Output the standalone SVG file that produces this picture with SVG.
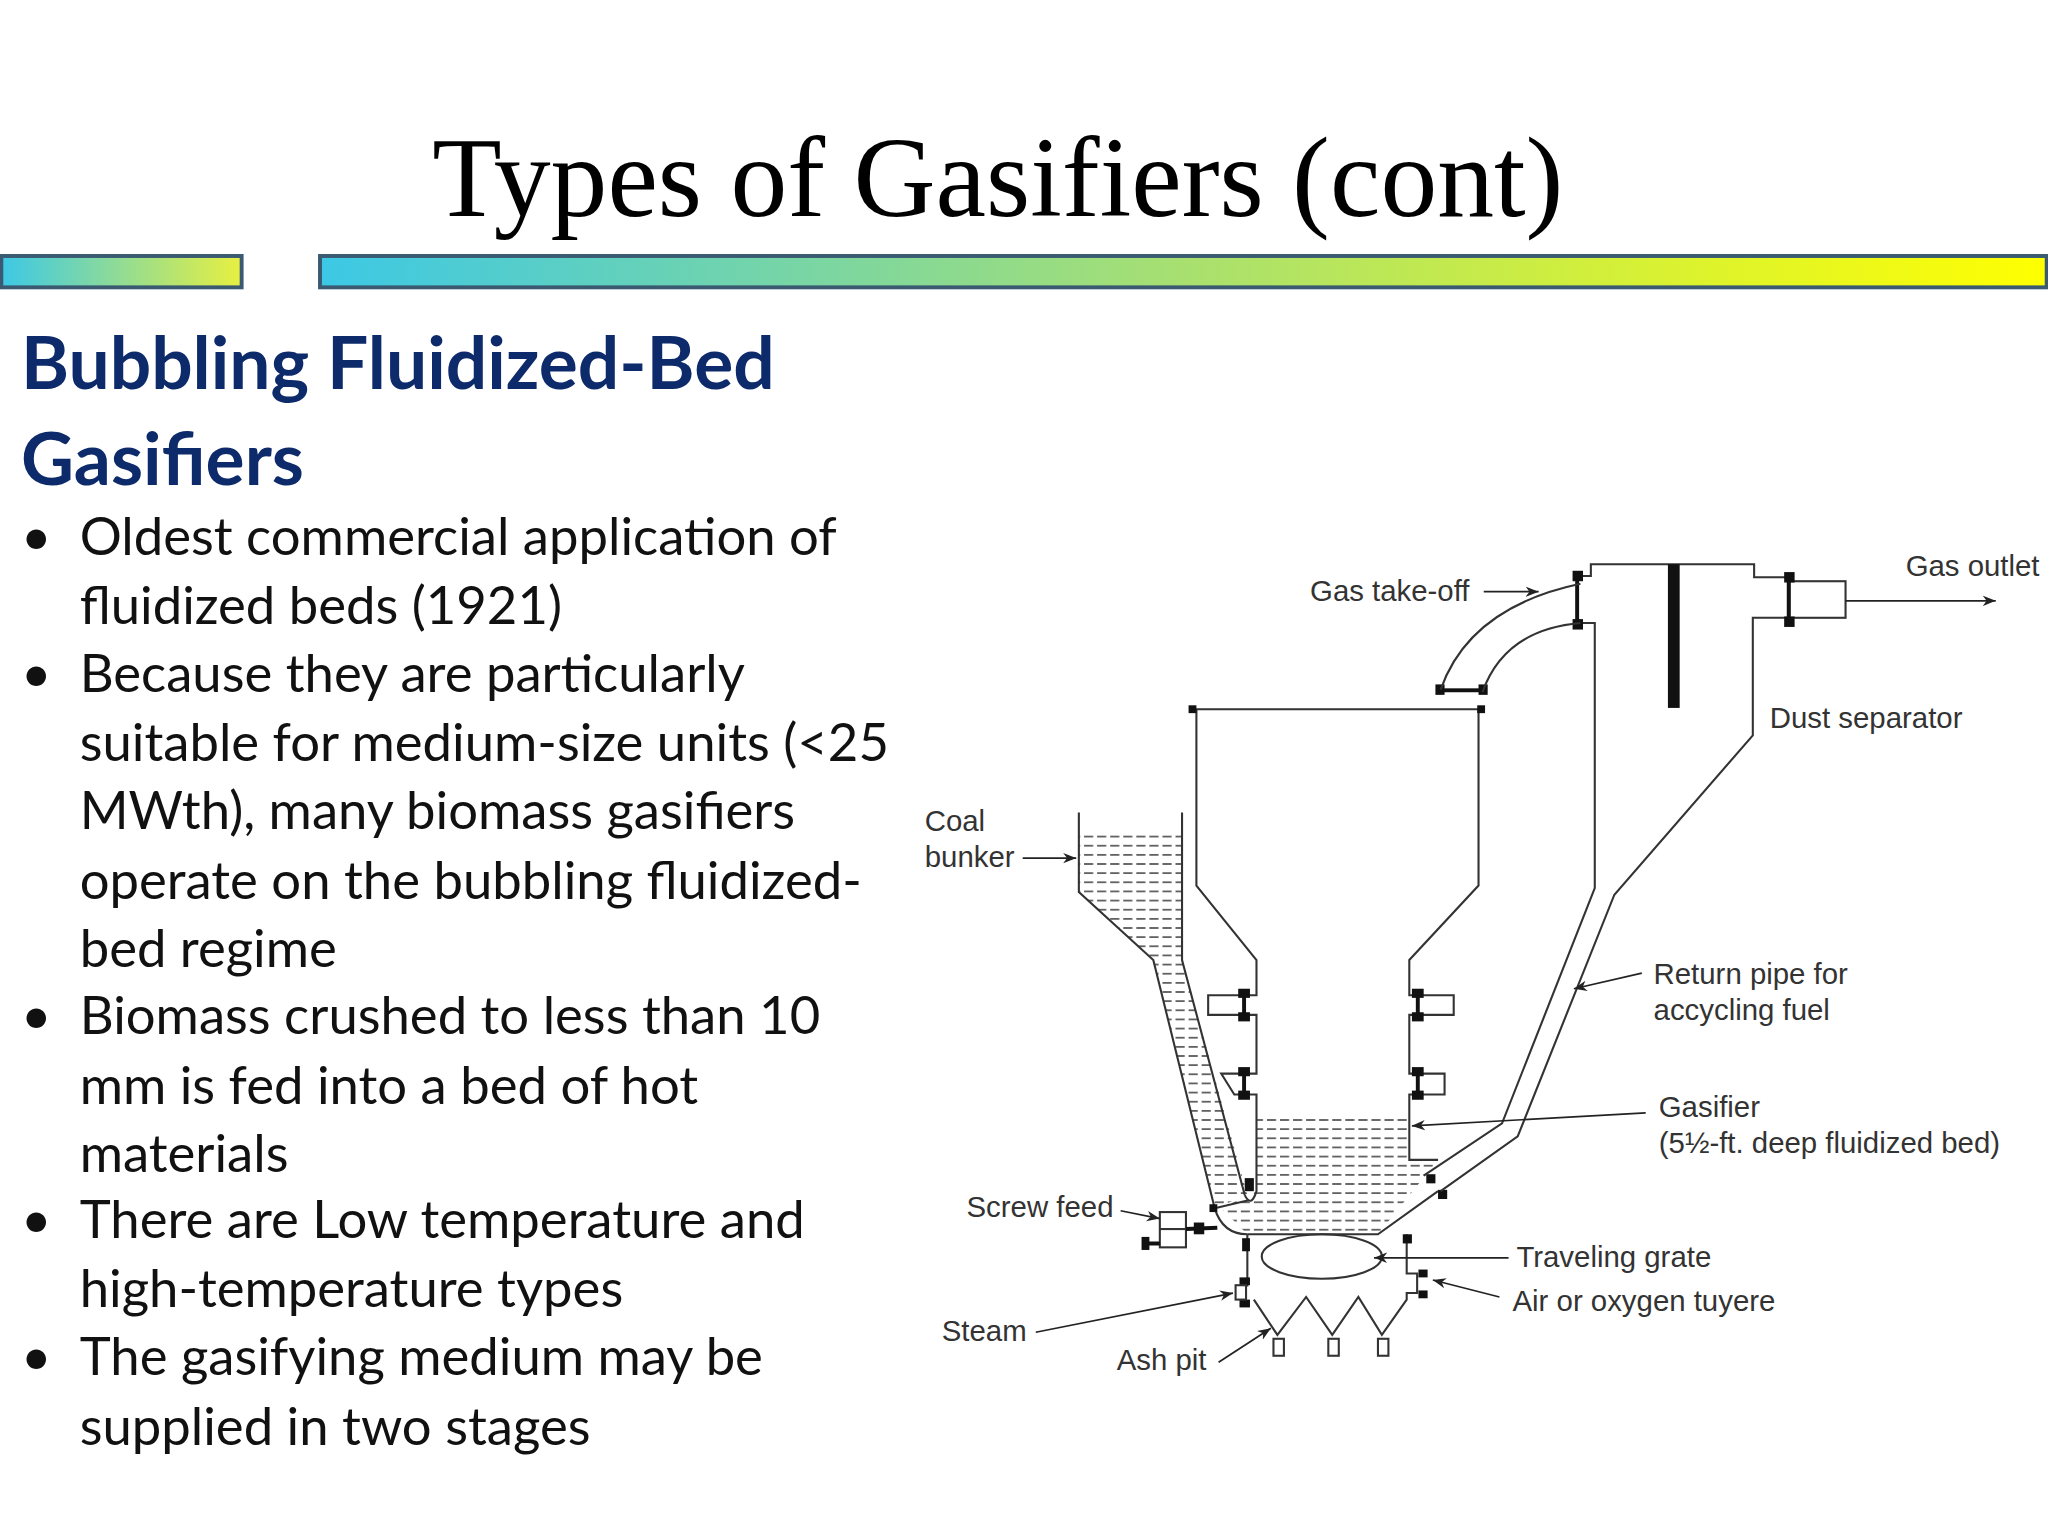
<svg xmlns="http://www.w3.org/2000/svg" width="2048" height="1536" viewBox="0 0 2048 1536">
<defs>
<linearGradient id="bar" x1="0" x2="1" y1="0" y2="0"><stop offset="0" stop-color="#3cc8e6"/><stop offset="0.5" stop-color="#a8e070"/><stop offset="1" stop-color="#ffff00"/></linearGradient>
<linearGradient id="bar2" x1="0" x2="1" y1="0" y2="0"><stop offset="0" stop-color="#3cc8e6"/><stop offset="1" stop-color="#e8f040"/></linearGradient>
<pattern id="hatch" width="10" height="7" patternUnits="userSpaceOnUse"><line x1="0" y1="3.5" x2="7" y2="3.5" stroke="#222" stroke-width="1"/></pattern>
<marker id="ar" viewBox="0 0 10 10" refX="10" refY="5" markerWidth="10" markerHeight="10" markerUnits="userSpaceOnUse" orient="auto"><path d="M0,1 L10,5 L0,9 L3,5 z" fill="#222"/></marker>
<style>
.ln{fill:none;stroke:#333;stroke-width:1.6}
.lb{font-family:"Liberation Sans",Arial,sans-serif;font-size:22.5px;fill:#333}
.ld{fill:none;stroke:#222;stroke-width:1.3;marker-end:url(#ar)}
.bt{fill:#111}
.bul{font-family:Lato,"Open Sans",sans-serif;font-size:40.3px;fill:#111}
</style>
</defs>
<rect width="2048" height="1536" fill="#fff"/>
<g transform="scale(1.30612)">
<g id="title">
<text x="764" y="165" text-anchor="middle" font-family="Liberation Serif,serif" font-size="87" fill="#000">Types of Gasifiers (cont)</text>
<rect x="1" y="196" width="184" height="24" fill="url(#bar2)" stroke="#3a5a72" stroke-width="3"/>
<rect x="245" y="196" width="1322" height="24" fill="url(#bar)" stroke="#3a5a72" stroke-width="3"/>
</g>
<g id="text">
<text x="16" y="298" font-family="Lato,'Open Sans',sans-serif" font-weight="bold" font-size="56" fill="#0d2a6b">Bubbling Fluidized-Bed</text>
<text x="16" y="371" font-family="Lato,'Open Sans',sans-serif" font-weight="bold" font-size="56" fill="#0d2a6b">Gasifiers</text>
<g class="bul">
<text x="16" y="425">•</text><text x="61" y="425">Oldest commercial application of</text>
<text x="61" y="478">fluidized beds (1921)</text>
<text x="16" y="530">•</text><text x="61" y="530">Because they are particularly</text>
<text x="61" y="583">suitable for medium-size units (&lt;25</text>
<text x="61" y="635">MWth), many biomass gasifiers</text>
<text x="61" y="688">operate on the bubbling fluidized-</text>
<text x="61" y="740">bed regime</text>
<text x="16" y="792">•</text><text x="61" y="792">Biomass crushed to less than 10</text>
<text x="61" y="845">mm is fed into a bed of hot</text>
<text x="61" y="897">materials</text>
<text x="16" y="948">•</text><text x="61" y="948">There are Low temperature and</text>
<text x="61" y="1001">high-temperature types</text>
<text x="16" y="1053">•</text><text x="61" y="1053">The gasifying medium may be</text>
<text x="61" y="1106">supplied in two stages</text>
</g>
</g>
<g id="bunker">
<path d="M826,638 L905,638 L905,735 L955,915 L930,925 L883,735 L826,683 Z" fill="url(#hatch)"/>
<path class="ln" d="M826,622 L826,683 L883,735 L930,925 Q936,945 955,945"/>
<path class="ln" d="M905,622 L905,735 L953,915"/>
</g>
<g id="gasifier">
<path d="M962,855 L1079,855 L1079,888 L1101,888 L1055,945 L955,945 L935,925 L962,912 Z" fill="url(#hatch)"/>
<path class="ln" d="M914,543 L1135,543 M916,543 L916,678 L962,735 L962,762 L925,762 L925,777 L962,777 L962,822 L935,822 L945,838 L962,838 L962,912 Q958,925 953,915"/>
<path class="ln" d="M1132,543 L1132,678 L1079,735 L1079,762 L1113,762 L1113,777 L1079,777 L1079,822 L1106,822 L1106,838 L1079,838 L1079,888 L1101,888"/>
<path class="ln" d="M955,945 L1055,945 L1101,912"/>
<rect class="bt" x="910" y="540" width="6" height="6"/><rect class="bt" x="1131" y="540" width="6" height="6"/>
<g class="bt">
<rect x="948" y="757" width="9" height="7"/><rect x="948" y="775" width="9" height="7"/><rect x="951" y="762" width="3" height="15"/>
<rect x="948" y="817" width="9" height="7"/><rect x="948" y="835" width="9" height="7"/><rect x="951" y="822" width="3" height="15"/>
<rect x="1081" y="757" width="9" height="7"/><rect x="1081" y="775" width="9" height="7"/><rect x="1084" y="762" width="3" height="15"/>
<rect x="1081" y="817" width="9" height="7"/><rect x="1081" y="835" width="9" height="7"/><rect x="1084" y="822" width="3" height="15"/>
<rect x="953" y="902" width="7" height="10"/>
<rect x="1092" y="899" width="7" height="7"/><rect x="1101" y="911" width="7" height="7"/>
</g>
<ellipse class="ln" cx="1012" cy="962" rx="46" ry="17"/>
<path class="ln" d="M955,945 L955,985 M1077,945 L1077,975 L1085,975 L1085,990 L1077,990 L1077,995 L1058,1022 L1040,993 L1020,1022 L1000,993 L978,1022 L960,995"/>
<g class="bt"><rect x="951" y="948" width="6" height="10"/><rect x="1074" y="945" width="7" height="7"/><rect x="949" y="978" width="8" height="6"/><rect x="949" y="995" width="8" height="6"/><rect x="1086" y="972" width="7" height="6"/><rect x="1086" y="988" width="7" height="6"/></g>
<rect class="ln" x="946" y="984" width="8" height="11"/>
<rect class="ln" x="975" y="1025" width="8" height="13"/><rect class="ln" x="1017" y="1025" width="8" height="13"/><rect class="ln" x="1055" y="1025" width="8" height="13"/>
<path class="ln" d="M930,925 L956,919"/><rect class="bt" x="926" y="922" width="6" height="6"/>
</g>
<g id="screw">
<rect class="ln" x="888" y="928" width="20" height="27"/><path class="ln" d="M888,941 L908,941"/>
<path stroke="#111" stroke-width="3" d="M908,941 L932,940 M878,952 L888,952"/>
<rect class="bt" x="914" y="936" width="8" height="9"/><rect class="bt" x="874" y="947" width="6" height="10"/>
</g>
<g id="separator">
<path class="ln" d="M1210,441 L1218,441 L1218,432 L1343,432 L1343,442 L1370,442 M1370,473 L1342,473 L1342,563 L1236,685 L1162,870 L1103,912"/>
<path class="ln" d="M1210,477 L1221,477 L1221,680 L1150,860 L1090,900"/>
<rect class="ln" x="1370" y="445" width="43" height="28"/>
<rect class="bt" x="1277" y="432" width="9" height="110"/>
<g class="bt"><rect x="1366" y="438" width="8" height="8"/><rect x="1366" y="472" width="8" height="8"/><rect x="1368" y="444" width="3" height="30"/>
<rect x="1204" y="437" width="8" height="8"/><rect x="1204" y="474" width="8" height="8"/><rect x="1206" y="443" width="3" height="33"/>
<rect x="1099" y="524" width="7" height="8"/><rect x="1132" y="524" width="7" height="8"/><rect x="1104" y="527" width="30" height="3"/></g>
<path class="ln" d="M1210,447 Q1125,465 1103,528 M1210,477 Q1152,482 1135,530"/>
</g>
<g id="connectors">
<path class="ld" d="M1413,460 L1528,460"/>
<path class="ld" d="M1136,453 L1178,453"/>
<path class="ld" d="M783,657 L824,657"/>
<path class="ld" d="M1257,745 L1205,757"/>
<path class="ld" d="M1260,852 L1081,862"/>
<path class="ld" d="M858,927 L888,933"/>
<path class="ld" d="M1155,963 L1052,963"/>
<path class="ld" d="M1148,993 L1097,980"/>
<path class="ld" d="M793,1020 L944,990"/>
<path class="ld" d="M933,1043 L973,1017"/>
</g>
<g id="labels" class="lb">
<text x="1003" y="460">Gas take-off</text>
<text x="1459" y="441">Gas outlet</text>
<text x="1355" y="557">Dust separator</text>
<text x="708" y="636">Coal</text><text x="708" y="664">bunker</text>
<text x="1266" y="753">Return pipe for</text><text x="1266" y="781">accycling fuel</text>
<text x="1270" y="855">Gasifier</text><text x="1270" y="883">(5½-ft. deep fluidized bed)</text>
<text x="740" y="932">Screw feed</text>
<text x="1161" y="970">Traveling grate</text>
<text x="1158" y="1004">Air or oxygen tuyere</text>
<text x="721" y="1027">Steam</text>
<text x="855" y="1049">Ash pit</text>
</g>
</g>
</svg>
